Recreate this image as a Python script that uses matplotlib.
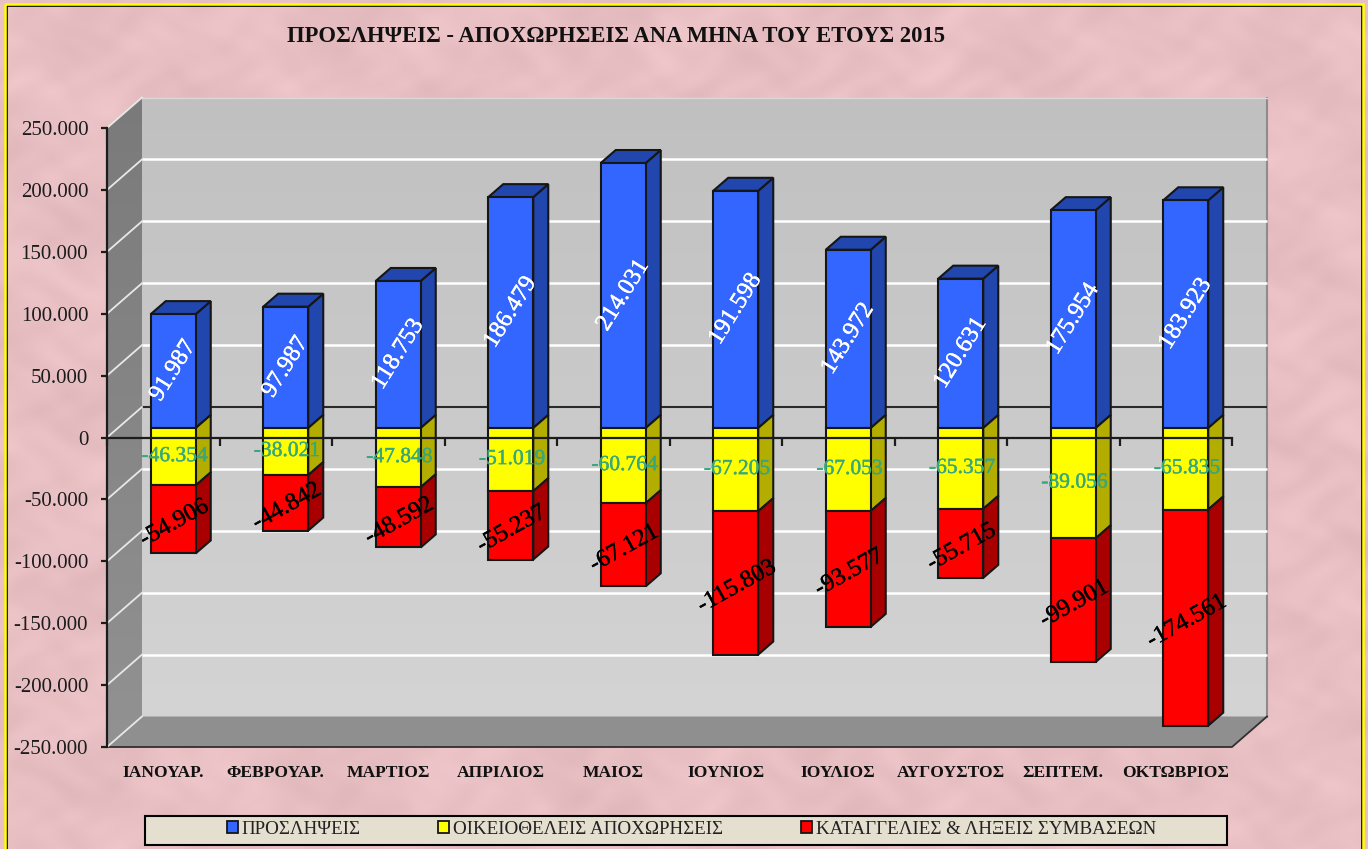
import numpy as np
import matplotlib
matplotlib.use("Agg")
import matplotlib.pyplot as plt
import matplotlib.patheffects as pe
from matplotlib.patches import Polygon, Rectangle, Patch

months = ["ΙΑΝΟΥΑΡ.", "ΦΕΒΡΟΥΑΡ.", "ΜΑΡΤΙΟΣ", "ΑΠΡΙΛΙΟΣ", "ΜΑΙΟΣ", "ΙΟΥΝΙΟΣ",
          "ΙΟΥΛΙΟΣ", "ΑΥΓΟΥΣΤΟΣ", "ΣΕΠΤΕΜ.", "ΟΚΤΩΒΡΙΟΣ"]
hires = [91987, 97987, 118753, 186479, 214031, 191598, 143972, 120631, 175954, 183923]
quits = [-46354, -38021, -47848, -51019, -60764, -67205, -67053, -65357, -89056, -65835]
layoffs = [-54906, -44842, -48592, -55237, -67121, -115803, -93577, -55715, -99901, -174561]
yticks = [-250000, -200000, -150000, -100000, -50000, 0, 50000, 100000, 150000, 200000, 250000]

W, H = 1368, 849
plt.rcParams["font.family"] = ["Liberation Serif", "DejaVu Serif"]

fig = plt.figure(figsize=(W / 100, H / 100), dpi=100, facecolor="white")


def fig_box(x0, y0, x1, y1):
    # pixel box (y down) to figure fractions
    return [x0 / W, 1 - y1 / H, (x1 - x0) / W, (y1 - y0) / H]


# pink paper background, smooth mottling only
yy, xx = np.mgrid[0:H, 0:W]
mottle = (np.sin(xx / 37.0 + np.sin(yy / 29.0) * 2.5) + np.sin(yy / 31.0 - np.sin(xx / 43.0) * 2.5)
          + np.sin(xx / 9.0 + np.sin(yy / 13.0) * 3) * 0.7
          + np.sin(yy / 7.0 + np.sin(xx / 19.0) * 3) * 0.7)
paper = np.zeros((H, W, 3))
for c, base in enumerate((232, 192, 195)):
    paper[:, :, c] = (base + mottle * 2.2) / 255.0
bg = fig.add_axes([0, 0, 1, 1], zorder=0)
bg.imshow(paper, extent=(0, W, H, 0), aspect="auto", interpolation="bilinear")
bg.set_xlim(0, W)
bg.set_ylim(H, 0)
bg.axis("off")
bg.add_patch(Rectangle((6.5, 5.5), 1355, 860, fill=False, ec="black", lw=1.2))
bg.add_patch(Rectangle((5, 4), 1358, 860, fill=False, ec="#ffff00", lw=1.8))
bg.add_patch(Rectangle((145, 816), 1082, 29, fc="#e5dfd0", ec="black", lw=1.5))

# axes = front plane of the 3D box, 107..1232 px and 128..747 px
ax = fig.add_axes(fig_box(107, 128, 1232, 747), zorder=1)
ax.set_xlim(0, 10)
ax.set_ylim(-250000, 250000)
ax.patch.set_alpha(0)

PX_X = 10 / 1125.0
PX_Y = 500000 / 619.0


def px(dx, dy):
    return dx * PX_X, -dy * PX_Y


# walls
wx, wy = px(35, -30.5)
wall = np.linspace(0, 1, 256).reshape(-1, 1)
wall_rgb = np.repeat(wall, 3, axis=1).reshape(256, 1, 3) * (0xd4 - 0xc0) / 255 + 0xc0 / 255
ax.imshow(wall_rgb, extent=(wx, 10 + wx, -250000 + wy, 250000 + wy), aspect="auto",
          origin="upper", clip_on=False, zorder=1)
ax.set_xlim(0, 10)
ax.set_ylim(-250000, 250000)
ax.plot([10 + wx, 10 + wx], [-250000 + wy, 250000 + wy], color="#8c8c8c", lw=1.5, clip_on=False, zorder=1.2)
ax.plot([wx, 10 + wx], [250000 + wy, 250000 + wy], color="#d8d8d8", lw=1, clip_on=False, zorder=1.2)
side = np.linspace(0x7a, 0x92, 256).reshape(-1, 1) / 255
side_rgb = np.repeat(side, 3, axis=1).reshape(256, 1, 3)
im = ax.imshow(side_rgb, extent=(0, wx, -250000, 250000 + wy), aspect="auto", origin="upper", zorder=1.1)
clip_poly = Polygon([(0, -250000), (wx, -250000 + wy), (wx, 250000 + wy), (0, 250000)],
                    transform=ax.transData)
im.set_clip_box(fig.bbox)
im.set_clip_path(clip_poly)
ax.add_patch(Polygon([(0, -250000), (10, -250000), (10 + wx, -250000 + wy), (wx, -250000 + wy)],
                     fc="#8f8f8f", ec="none", clip_on=False, zorder=1.3))
ax.plot([0, 10, 10 + wx], [-250000, -250000, -250000 + wy], color="#303030", lw=1.3,
        clip_on=False, zorder=1.4)

for v in yticks:
    col = "#2a2a2a" if v == 0 else "white"
    if v != -250000 and v != 250000:
        ax.plot([wx, 10 + wx], [v + wy, v + wy], color=col, lw=1.8 if v else 1.5,
                clip_on=False, zorder=1.5, solid_capstyle="butt")
    ax.plot([0, wx], [v, v + wy], color="#e8e8e8", lw=1.3, clip_on=False, zorder=1.5)

# bars
bar_w = 0.4
x_pos = np.arange(10) + 0.5
cx, cy = px(10, 9.5)
dx, dy = px(15, -13)
series = [
    ("ΠΡΟΣΛΗΨΕΙΣ", "#3366ff", "#2146ad"),
    ("ΟΙΚΕΙΟΘΕΛΕΙΣ ΑΠΟΧΩΡΗΣΕΙΣ", "#ffff00", "#b3ad00"),
    ("ΚΑΤΑΓΓΕΛΙΕΣ & ΛΗΞΕΙΣ ΣΥΜΒΑΣΕΩΝ", "#ff0000", "#a80000"),
]
base_y = -cy
bar_x = x_pos + cx


def draw_seg(x, y0, y1, front, shade, top=False):
    ax.bar(x, y1 - y0, bar_w, bottom=y0, color=front, edgecolor="#161616", lw=1.5, zorder=3, clip_on=False)
    r = x + bar_w / 2
    ax.add_patch(Polygon([(r, y0), (r + dx, y0 + dy), (r + dx, y1 + dy), (r, y1)], fc=shade,
                         ec="#161616", lw=1.5, zorder=2.9, clip_on=False))
    if top:
        l = x - bar_w / 2
        ax.add_patch(Polygon([(l, y1), (r, y1), (r + dx, y1 + dy), (l + dx, y1 + dy)], fc=shade,
                             ec="#161616", lw=1.5, zorder=2.9, clip_on=False))


for i in range(10):
    draw_seg(bar_x[i], base_y, base_y + hires[i], series[0][1], series[0][2], top=True)
    q = base_y + quits[i]
    draw_seg(bar_x[i], base_y, q, series[1][1], series[1][2])
    draw_seg(bar_x[i], q, q + layoffs[i], series[2][1], series[2][2])


def fmt(v):
    return f"{v:,}".replace(",", ".")


def thick(color):
    return [pe.withStroke(linewidth=0.3, foreground=color)]


for i in range(10):
    q = base_y + quits[i]
    ax.text(bar_x[i], base_y + hires[i] / 2, fmt(hires[i]), color="white", fontsize=17.5, rotation=58,
            ha="center", va="center", rotation_mode="anchor", zorder=5, path_effects=thick("white"))
    ax.text(bar_x[i] + 0.01, base_y + quits[i] / 2, fmt(quits[i]), color="#37a77c", fontsize=15.5,
            ha="center", va="center", zorder=5, path_effects=thick("#37a77c"))
    ax.text(bar_x[i] + 0.01, q + layoffs[i] / 2 - 4 * PX_Y, fmt(layoffs[i]), color="black", fontsize=17.5,
            rotation=29, ha="center", va="center", rotation_mode="anchor", zorder=5, path_effects=thick("black"))

# axes, ticks
for s in ("top", "right"):
    ax.spines[s].set_visible(False)
ax.spines["bottom"].set_position(("data", 0))
ax.spines["bottom"].set_linewidth(1.6)
ax.spines["bottom"].set_color("#1c1c1c")
ax.spines["bottom"].set_zorder(4)
ax.spines["left"].set_linewidth(1.6)
ax.spines["left"].set_color("#1c1c1c")
ax.set_xticks(np.arange(11))
ax.set_xticklabels([])
ax.tick_params(axis="x", direction="out", length=5.5, width=1.6, color="#1c1c1c", zorder=4)
ax.set_yticks(yticks)
ax.set_yticklabels([fmt(v) for v in yticks])
ax.tick_params(axis="y", direction="out", length=4.5, width=1.6, color="#1c1c1c", labelsize=15, pad=9,
               labelcolor="#1c1c1c")

for i, m in enumerate(months):
    ax.annotate(m, (x_pos[i], -250000), xytext=(0, -26), textcoords="offset pixels", ha="center",
                va="center", fontsize=12.6, fontweight="bold", color="#111111", annotation_clip=False)

fig.text(287 / W, 1 - 37 / H, "ΠΡΟΣΛΗΨΕΙΣ - ΑΠΟΧΩΡΗΣΕΙΣ ΑΝΑ ΜΗΝΑ ΤΟΥ ΕΤΟΥΣ 2015", fontsize=16.3,
         fontweight="bold", color="#111111", ha="left", va="center", zorder=6)

handles = [Patch(fc=s[1], ec="#161616", lw=1.3) for s in series]
leg = fig.legend(handles, [s[0] for s in series], ncol=3, frameon=False, fontsize=13.7,
                 loc="center", bbox_to_anchor=(691.5 / W, 1 - 829 / H), handlelength=0.58,
                 handleheight=0.58, handletextpad=0.2, columnspacing=4.1, labelcolor="#222222")
leg.set_zorder(6)

fig.savefig("out.png", dpi=100)
